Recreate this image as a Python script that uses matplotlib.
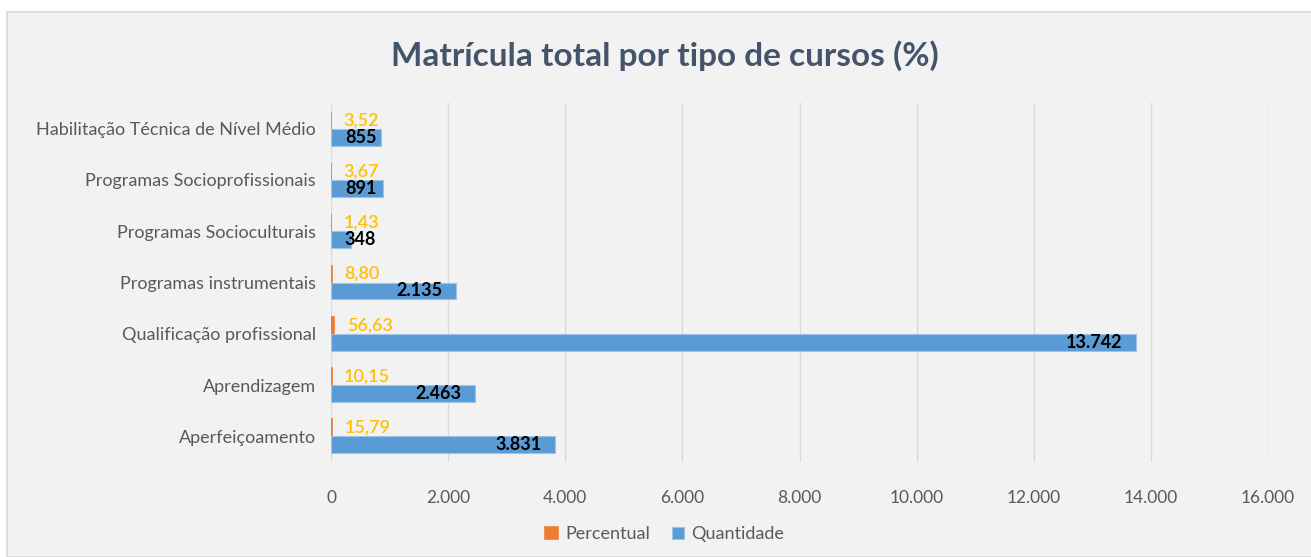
import matplotlib
matplotlib.use("Agg")
import matplotlib.pyplot as plt
from matplotlib.patches import Rectangle
from matplotlib.ticker import FuncFormatter
import numpy as np

# dados (de baixo para cima)
categorias = ["Aperfeiçoamento", "Aprendizagem", "Qualificação profissional",
              "Programas instrumentais", "Programas Socioculturais",
              "Programas Socioprofissionais", "Habilitação Técnica de Nível Médio"]
percentual = [15.79, 10.15, 56.63, 8.80, 1.43, 3.67, 3.52]
quantidade = [3831, 2463, 13742, 2135, 348, 891, 855]

plt.rcParams['font.family'] = ['Lato', 'DejaVu Sans']

fig = plt.figure(figsize=(13.11, 5.57), dpi=100)
fig.patch.set_facecolor("white")
fig.patches.append(Rectangle((7 / 1311, 0), 1.0, 1 - 12 / 557, transform=fig.transFigure,
                             facecolor="#f2f2f2", edgecolor="#d9d9d9", lw=1.2, zorder=-5))

ax = fig.add_axes([0.2525, 0.1706, 0.7147, 0.6444])
ax.set_facecolor("#f2f2f2")

y = np.arange(len(categorias))
h = 0.33
ax.barh(y + h / 2, percentual, height=h, color="#ed7d31", edgecolor="#ed7d31",
        lw=1.2, label="Percentual", zorder=3)
ax.barh(y - h / 2, quantidade, height=h, color="#5b9bd5", edgecolor="#9dc3e6",
        lw=0.8, label="Quantidade", zorder=3)

def br(v, dec):
    s = f"{v:,.{dec}f}"
    return s.replace(",", "X").replace(".", ",").replace("X", ".")

for yi, p in zip(y, percentual):
    ax.annotate(br(p, 2), (p, yi + h / 2), xytext=(9, 0), textcoords="offset points",
                ha="left", va="center", color="#ffc000", fontsize=13,
                fontweight="semibold", zorder=4)

for yi, q in zip(y, quantidade):
    if q < 1500:
        ax.annotate(br(q, 0), (0, yi - h / 2), xytext=(10, 0), textcoords="offset points",
                    ha="left", va="center", color="black", fontsize=13,
                    fontweight="bold", zorder=4)
    else:
        ax.annotate(br(q, 0), (q, yi - h / 2), xytext=(-10, 0), textcoords="offset points",
                    ha="right", va="center", color="black", fontsize=13,
                    fontweight="bold", zorder=4)

ax.set_xlim(0, 16000)
ax.set_ylim(-0.5, 6.5)
ax.set_xticks(np.arange(0, 16001, 2000))
ax.xaxis.set_major_formatter(FuncFormatter(lambda v, pos: br(v, 0)))
ax.set_yticks(y)
ax.set_yticklabels(categorias)
ax.tick_params(axis="x", length=0, pad=20, labelsize=12.5, labelcolor="#595959")
ax.tick_params(axis="y", length=0, pad=11, labelsize=13, labelcolor="#595959")
ax.grid(axis="x", color="#d9d9d9", lw=1, zorder=0)
for s in ax.spines.values():
    s.set_visible(False)

fig.text(0.507, 0.901, "Matrícula total por tipo de cursos (%)", ha="center", va="center",
         fontsize=24, fontweight="bold", color="#44546a")

fig.legend(loc="center", bbox_to_anchor=(0.507, 0.041), ncol=2, frameon=False,
           fontsize=13, handlelength=0.7, handleheight=0.7, handletextpad=0.4,
           columnspacing=1.2, labelcolor="#595959")

fig.savefig("out.png", dpi=100, facecolor=fig.get_facecolor())
